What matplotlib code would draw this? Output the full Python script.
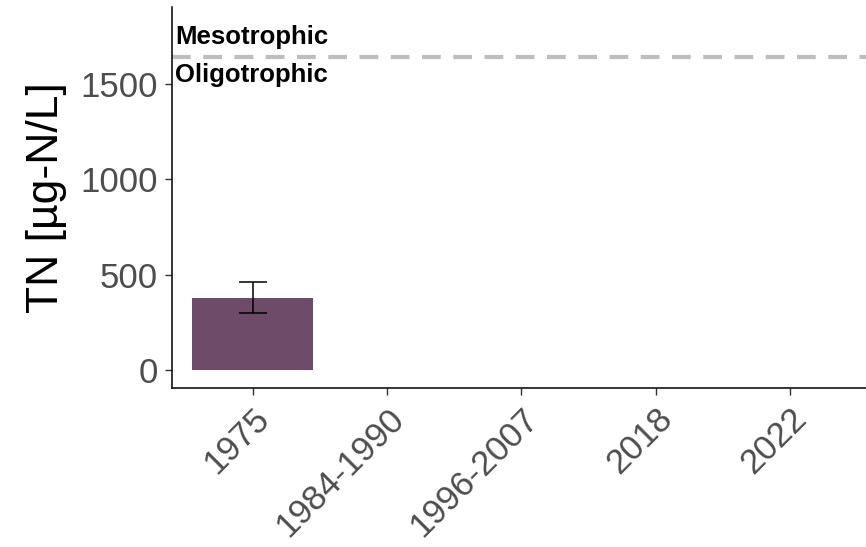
import matplotlib
matplotlib.use("Agg")
import matplotlib.pyplot as plt
import numpy as np

plt.rcParams['font.family'] = ['Liberation Sans', 'DejaVu Sans']

categories = ["1975", "1984-1990", "1996-2007", "2018", "2022"]
tn_mean = [377, np.nan, np.nan, np.nan, np.nan]
tn_low = [299, np.nan, np.nan, np.nan, np.nan]
tn_high = [461, np.nan, np.nan, np.nan, np.nan]
threshold = 1640
upper_label = "Mesotrophic"
lower_label = "Oligotrophic"

fig = plt.figure(figsize=(8.66, 5.47), dpi=100)
ax = fig.add_axes([172/866, (547-388)/547, (870.5-172)/866, (388-7)/547])

x = np.arange(len(categories))
mean = np.array(tn_mean, dtype=float)
lo = np.array(tn_low, dtype=float)
hi = np.array(tn_high, dtype=float)
ok = ~np.isnan(mean)

ax.bar(x[ok], mean[ok], width=0.9, color="#6E4C69", zorder=2)
ax.errorbar(x[ok], mean[ok], yerr=[mean[ok]-lo[ok], hi[ok]-mean[ok]],
            fmt="none", ecolor="black", elinewidth=1.1, capsize=10, capthick=1.1, zorder=3)

ax.axhline(threshold, color="#BEBEBE", lw=3, dashes=(4.5, 3), zorder=1)
ax.text(-0.575, threshold + 45, upper_label, ha="left", va="bottom",
        fontsize=18.5, fontweight="bold", color="black")
ax.text(-0.575, threshold - 30, lower_label, ha="left", va="top",
        fontsize=18.5, fontweight="bold", color="black")

ax.set_xlim(-0.6, 4.6)
ax.set_ylim(-94, 1903)
ax.set_yticks([0, 500, 1000, 1500])
ax.set_xticks(x)
ax.set_xticklabels(categories, rotation=45, ha="right", va="top", rotation_mode="anchor")

for s in ["top", "right"]:
    ax.spines[s].set_visible(False)
for s in ["left", "bottom"]:
    ax.spines[s].set_linewidth(1.1)
    ax.spines[s].set_color("black")

ax.tick_params(axis="both", length=5, width=1.0, color="#333333",
               labelsize=25, labelcolor="#4D4D4D", pad=5)
ax.set_ylabel("TN [µg-N/L]", fontsize=32, color="black", labelpad=10)

fig.savefig("out.png", dpi=100)
